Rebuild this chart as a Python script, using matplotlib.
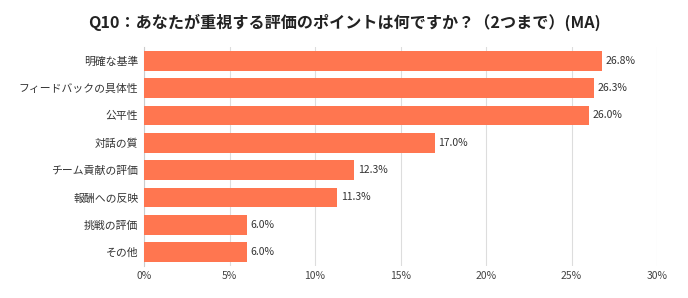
import matplotlib
matplotlib.use("Agg")
import matplotlib.pyplot as plt

plt.rcParams['font.family'] = ['Noto Sans CJK JP', 'DejaVu Sans']

categories = ["明確な基準", "フィードバックの具体性", "公平性", "対話の質",
              "チーム貢献の評価", "報酬への反映", "挑戦の評価", "その他"]
values = [26.8, 26.3, 26.0, 17.0, 12.3, 11.3, 6.0, 6.0]
xticks = [0, 5, 10, 15, 20, 25, 30]
title = "Q10：あなたが重視する評価のポイントは何ですか？（2つまで）(MA)"

fig = plt.figure(figsize=(6.88, 2.98), dpi=100)
ax = fig.add_axes([0.2093, 0.108, 0.7457, 0.734])

y = list(range(len(categories)))
ax.barh(y, values, height=0.72, color="#FF7650", zorder=3)
for yi, v in zip(y, values):
    ax.text(v + 0.2, yi, f"{v:.1f}%", va="center", ha="left", fontsize=7.5, color="#333333")

ax.set_yticks(y)
ax.set_yticklabels(categories, fontsize=7.8, color="#333333")
ax.set_ylim(len(categories) - 0.5, -0.5)
ax.set_xlim(0, 30)
ax.set_xticks(xticks)
ax.set_xticklabels([f"{t}%" for t in xticks], fontsize=7.5, color="#444444")
ax.tick_params(length=0, pad=4)
ax.grid(axis="x", color="#dddddd", linewidth=0.8, zorder=0)
for s in ["top", "right", "bottom"]:
    ax.spines[s].set_visible(False)
ax.spines["left"].set_color("#cccccc")
ax.spines["left"].set_linewidth(0.8)

fig.text(0.5, 0.925, title, ha="center", va="center", fontsize=11.6, fontweight="bold", color="#222222")

fig.savefig("out.png", dpi=100, facecolor="white")
